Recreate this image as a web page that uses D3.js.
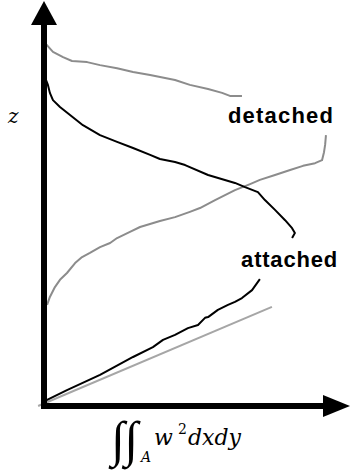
<!DOCTYPE html>
<html>
<head>
<meta charset="utf-8">
<script src="https://cdn.jsdelivr.net/npm/d3@7"></script>
<style>
  body { margin: 0; background: #fff; }
  svg { display: block; }
</style>
</head>
<body>
<div id="chart"></div>
<script>
// x: integral of w^2 over A (arbitrary units), z: height (arbitrary units)
const detachedLower = [
  [1.1, 26.6], [2.1, 28.7], [3.9, 31.3], [5.7, 33.2], [8.2, 35.0], [11.1, 37.6],
  [13.6, 39.2], [16.4, 40.3], [20.0, 41.8], [23.6, 42.9], [26.1, 44.2], [30.7, 45.8],
  [34.3, 47.1], [41.4, 48.7], [46.8, 49.7], [52.1, 51.1], [55.7, 52.1], [61.1, 54.2],
  [68.2, 56.8], [73.6, 58.4], [77.1, 59.5], [82.5, 60.8], [87.9, 62.1], [92.5, 63.2],
  [96.8, 63.9], [99.3, 64.7], [100.0, 66.8], [100.4, 68.7], [100.7, 71.3]
];
const detachedUpper = [
  [70.7, 81.6], [66.4, 81.6], [63.6, 82.4], [58.6, 83.4], [52.1, 84.5], [46.8, 85.8],
  [37.9, 87.1], [31.8, 87.9], [26.1, 88.9], [20.0, 89.7], [15.4, 90.5], [10.0, 90.8],
  [6.8, 91.8], [3.2, 93.2], [0.4, 95.5]
];
const attachedLower = [
  [0.0, 0.5], [0.2, 1.3], [8.2, 4.2], [20.0, 8.2], [31.8, 12.9], [38.9, 15.5],
  [42.5, 17.4], [46.8, 18.7], [51.4, 20.5], [55.0, 21.3], [57.5, 23.2], [58.6, 23.4],
  [62.1, 25.3], [65.7, 26.6], [68.2, 27.4], [70.7, 28.4], [74.3, 30.5], [77.1, 33.4]
];
const attachedUpper = [
  [88.6, 44.2], [89.6, 45.5], [88.6, 46.8], [86.1, 48.9], [82.5, 51.6], [78.9, 54.2],
  [76.4, 56.3], [71.8, 57.6], [68.2, 58.7], [58.6, 60.8], [50.4, 63.4], [46.8, 64.2],
  [41.4, 65.0], [37.9, 66.1], [31.8, 67.9], [26.1, 69.5], [20.0, 71.3], [13.9, 73.9],
  [9.3, 76.6], [5.7, 78.7], [3.2, 80.5], [2.1, 82.4], [1.4, 84.5], [0.7, 85.8]
];
const referenceLine = [[-2.1, 0], [81.4, 26.1]];

const labels = [
  { text: "detached", x: 65.7, z: 74.5, len: 105 },
  { text: "attached", x: 70.4, z: 36.6, len: 96 }
];

const width = 350, height = 473;
const x = d3.scaleLinear().domain([0, 100]).range([44, 324]);
const y = d3.scaleLinear().domain([0, 100]).range([406, 26]);

const svg = d3.select("#chart")
  .append("svg")
  .attr("width", width)
  .attr("height", height);

const line = d3.line()
  .x((d) => x(d[0]))
  .y((d) => y(d[1]));

// curves
svg.append("path").datum(referenceLine)
  .attr("d", line).attr("fill", "none")
  .attr("stroke", "#a6a6a6").attr("stroke-width", 2);

[detachedLower, detachedUpper].forEach((s) => {
  svg.append("path").datum(s)
    .attr("d", line).attr("fill", "none")
    .attr("stroke", "#8c8c8c").attr("stroke-width", 2)
    .attr("stroke-linejoin", "round");
});

[attachedLower, attachedUpper].forEach((s) => {
  svg.append("path").datum(s)
    .attr("d", line).attr("fill", "none")
    .attr("stroke", "#000").attr("stroke-width", 2)
    .attr("stroke-linejoin", "round");
});

// axes with arrowheads
const x0 = x(0), y0 = y(0);
svg.append("line")
  .attr("x1", x0).attr("y1", y0 + 3)
  .attr("x2", x0).attr("y2", 24)
  .attr("stroke", "#000").attr("stroke-width", 6);
svg.append("path")
  .attr("d", `M${x0},1 L${x0 - 13},25 L${x0 + 13},25 Z`)
  .attr("fill", "#000");

svg.append("line")
  .attr("x1", x0 - 3).attr("y1", y0)
  .attr("x2", 324).attr("y2", y0)
  .attr("stroke", "#000").attr("stroke-width", 6);
svg.append("path")
  .attr("d", `M350,${y0} L323,${y0 - 11} L323,${y0 + 11} Z`)
  .attr("fill", "#000");

// series labels
svg.selectAll("text.lbl")
  .data(labels)
  .enter()
  .append("text")
  .attr("class", "lbl")
  .attr("x", (d) => x(d.x))
  .attr("y", (d) => y(d.z))
  .attr("textLength", (d) => d.len)
  .attr("lengthAdjust", "spacing")
  .attr("font-family", "Liberation Sans, Arial, sans-serif")
  .attr("font-weight", "bold")
  .attr("font-size", 22)
  .text((d) => d.text);

// axis titles
const serif = "DejaVu Serif, serif";
svg.append("text")
  .attr("x", 8).attr("y", 123)
  .attr("font-family", serif).attr("font-style", "italic")
  .attr("font-size", 20)
  .text("z");

const xt = svg.append("g").attr("font-family", serif).attr("font-style", "italic");
xt.append("text").attr("x", 111).attr("y", 456)
  .attr("font-family", "Liberation Serif, serif").attr("font-size", 50)
  .attr("textLength", 27).attr("lengthAdjust", "spacing")
  .text("\u222B\u222B");
xt.append("text").attr("x", 141).attr("y", 462).attr("font-size", 14).text("A");
xt.append("text").attr("x", 154).attr("y", 445).attr("font-size", 22).text("w");
xt.append("text").attr("x", 178).attr("y", 434).attr("font-size", 14)
  .attr("font-style", "normal").text("2");
xt.append("text").attr("x", 188).attr("y", 445).attr("font-size", 22).text("dxdy");
</script>
</body>
</html>
